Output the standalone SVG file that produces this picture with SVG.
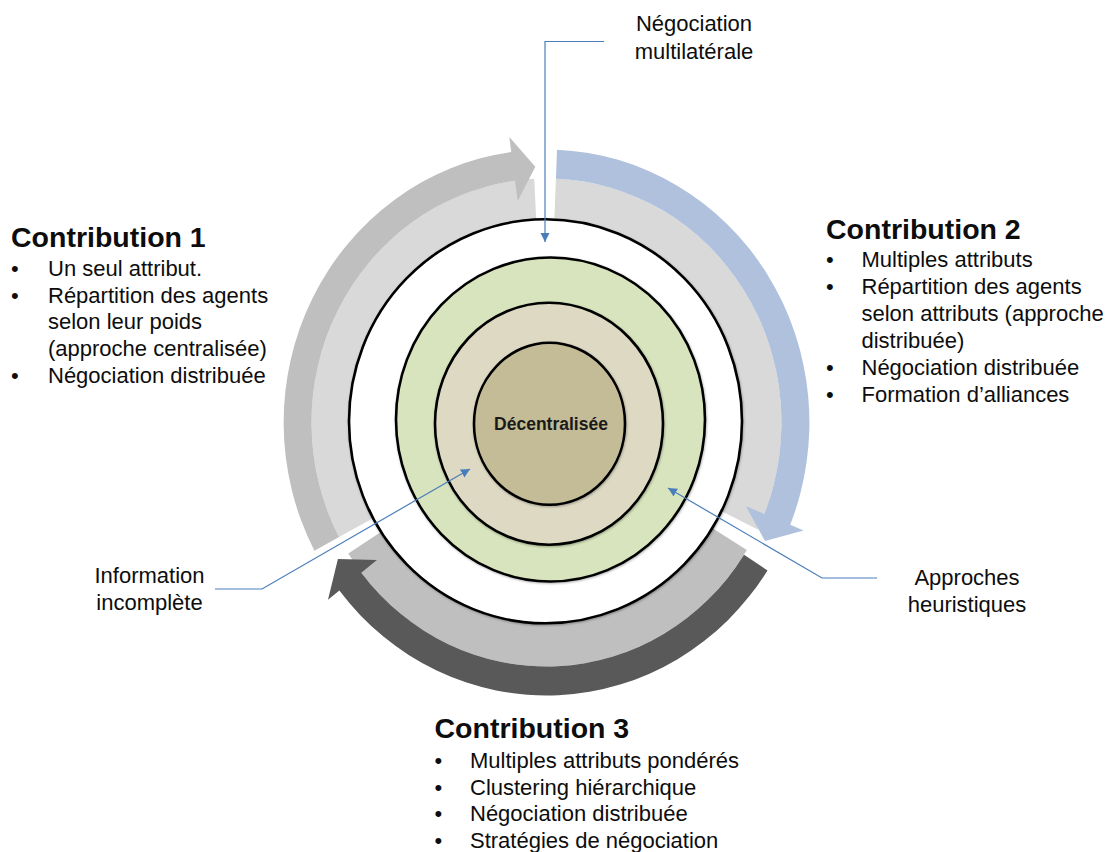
<svg xmlns="http://www.w3.org/2000/svg" width="1116" height="852" viewBox="0 0 1116 852">
<style>
text{font-family:"Liberation Sans",Arial,sans-serif;fill:#0d0d0d}
.h{font-size:28.5px;font-weight:bold}
.b{font-size:22px}
.lb{font-size:22px;text-anchor:middle}
.ring{stroke:#000;stroke-width:2.6;filter:url(#sh)}
.conn{fill:none;stroke:#4a7ebb;stroke-width:1.2}
</style>
<defs>
<filter id="sh" x="-10%" y="-10%" width="120%" height="120%">
<feDropShadow dx="0.6" dy="1" stdDeviation="1.2" flood-color="#000" flood-opacity="0.3"/>
</filter>
<marker id="ah" markerUnits="userSpaceOnUse" markerWidth="10" markerHeight="10" refX="9" refY="5" orient="auto">
<path d="M0,0.5 L9,5 L0,9.5 Z" fill="#4a7ebb"/>
</marker>
</defs>
<rect width="1116" height="852" fill="#fff"/>

<g id="arrows" transform="translate(546.5,422.5) scale(0.963,1)">
<g id="arc1">
<path fill="#d9d9d9" d="M-215.4,114.6 A244,244 0 0 1 -12.8,-243.7 L-10.2,-194.7 A195,195 0 0 0 -172.2,91.6 Z"/>
<path fill="#bfbfbf" d="M-215.4,114.6 A244,244 0 0 1 -32.7,-241.8 L-29.9,-221.5 L-11.6,-255.7 L-38.6,-285.4 L-36.6,-270.5 A273,273 0 0 0 -241.0,128.2 Z"/>
</g>
<g id="arc2">
<path fill="#d9d9d9" d="M9.8,-243.8 A244,244 0 0 1 219.3,107.0 L175.3,85.5 A195,195 0 0 0 7.8,-194.8 Z"/>
<path fill="#b0c1dd" d="M9.8,-243.8 A244,244 0 0 1 226.2,91.4 L207.2,83.7 L226.9,118.6 L267.0,107.9 L253.1,102.3 A273,273 0 0 0 10.9,-272.8 Z"/>
</g>
<g id="arc3">
<path fill="#bfbfbf" d="M208.0,127.5 A244,244 0 0 1 -205.8,131.1 L-164.5,104.8 A195,195 0 0 0 166.3,101.9 Z"/>
<path fill="#595959" d="M205.1,132.2 A244,244 0 0 1 -192.3,150.2 L-176.1,137.6 L-216.6,136.4 L-226.9,177.3 L-215.1,168.1 A273,273 0 0 0 229.5,147.9 Z"/>
</g>
</g>

<g id="circles">
<ellipse class="ring" cx="545.5" cy="421.3" rx="196.5" ry="202" fill="#fff"/>
<ellipse class="ring" cx="550.5" cy="419.5" rx="154.5" ry="162" fill="#d7e4bd"/>
<ellipse class="ring" cx="549" cy="423.8" rx="114" ry="121" fill="#ddd9c3"/>
<ellipse class="ring" cx="549.5" cy="423.8" rx="75.5" ry="81" fill="#c4bc96"/>
<text x="551" y="430" style="font-size:17.5px;font-weight:bold;text-anchor:middle;fill:#1a1a1a">Décentralisée</text>
</g>

<g id="connectors">
<polyline class="conn" points="604,41.5 545,41.5 545,242" marker-end="url(#ah)"/>
<polyline class="conn" points="215,589 262,589 470,469" marker-end="url(#ah)"/>
<polyline class="conn" points="877,578 822,578 668,488" marker-end="url(#ah)"/>
</g>

<g id="label-negociation">
<text class="lb" x="694" y="31">Négociation</text>
<text class="lb" x="694" y="58.5">multilatérale</text>
</g>
<g id="label-information">
<text class="lb" x="149.5" y="583">Information</text>
<text class="lb" x="149.5" y="610">incomplète</text>
</g>
<g id="label-heuristiques">
<text class="lb" x="967" y="585">Approches</text>
<text class="lb" x="967" y="611.5">heuristiques</text>
</g>

<g id="contribution1">
<text class="h" x="11" y="247">Contribution 1</text>
<text class="b" x="11" y="276">•</text>
<text class="b" x="48" y="276">Un seul attribut.</text>
<text class="b" x="11" y="302.7">•</text>
<text class="b" x="48" y="302.7">Répartition des agents</text>
<text class="b" x="48" y="329.4">selon leur poids</text>
<text class="b" x="48" y="356.1">(approche centralisée)</text>
<text class="b" x="11" y="382.8">•</text>
<text class="b" x="48" y="382.8">Négociation distribuée</text>
</g>

<g id="contribution2">
<text class="h" x="826" y="238.5">Contribution 2</text>
<text class="b" x="826" y="267">•</text>
<text class="b" x="861.5" y="267">Multiples attributs</text>
<text class="b" x="826" y="294">•</text>
<text class="b" x="861.5" y="294">Répartition des agents</text>
<text class="b" x="861.5" y="321">selon attributs (approche</text>
<text class="b" x="861.5" y="348">distribuée)</text>
<text class="b" x="826" y="375">•</text>
<text class="b" x="861.5" y="375">Négociation distribuée</text>
<text class="b" x="826" y="402">•</text>
<text class="b" x="861.5" y="402">Formation d’alliances</text>
</g>

<g id="contribution3">
<text class="h" x="434.5" y="738.3">Contribution 3</text>
<text class="b" x="434.5" y="768">•</text>
<text class="b" x="470" y="768">Multiples attributs pondérés</text>
<text class="b" x="434.5" y="794.7">•</text>
<text class="b" x="470" y="794.7">Clustering hiérarchique</text>
<text class="b" x="434.5" y="821.4">•</text>
<text class="b" x="470" y="821.4">Négociation distribuée</text>
<text class="b" x="434.5" y="848.1">•</text>
<text class="b" x="470" y="848.1">Stratégies de négociation</text>
</g>
</svg>
